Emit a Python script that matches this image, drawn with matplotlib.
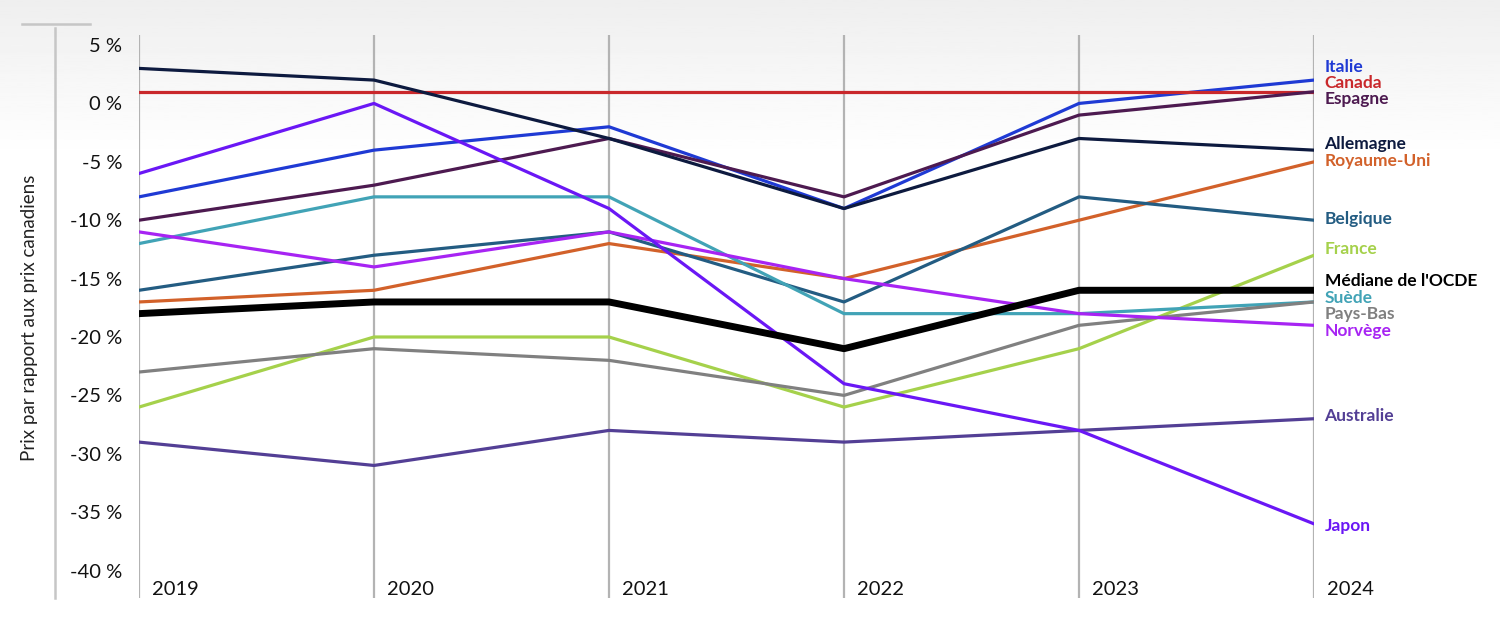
import numpy as np
import matplotlib.pyplot as plt
from matplotlib.lines import Line2D
import matplotlib.transforms as mtransforms

plt.rcParams['font.family'] = ['Lato', 'DejaVu Sans']

# data: price gap vs. Canada, in %
years = [2019, 2020, 2021, 2022, 2023, 2024]
countries = ["Italie", "Canada", "Espagne", "Allemagne", "Royaume-Uni", "Belgique",
             "France", "Médiane de l'OCDE", "Suède", "Pays-Bas", "Norvège",
             "Australie", "Japon"]
italie = [-8, -4, -2, -9, 0, 2]
canada = [1, 1, 1, 1, 1, 1]
espagne = [-10, -7, -3, -8, -1, 1]
allemagne = [3, 2, -3, -9, -3, -4]
royaume_uni = [-17, -16, -12, -15, -10, -5]
belgique = [-16, -13, -11, -17, -8, -10]
france = [-26, -20, -20, -26, -21, -13]
mediane = [-18, -17, -17, -21, -16, -16]
suede = [-12, -8, -8, -18, -18, -17]
pays_bas = [-23, -21, -22, -25, -19, -17]
norvege = [-11, -14, -11, -15, -18, -19]
australie = [-29, -31, -28, -29, -28, -27]
japon = [-6, 0, -9, -24, -28, -36]
series = [italie, canada, espagne, allemagne, royaume_uni, belgique, france,
          mediane, suede, pays_bas, norvege, australie, japon]
colors = ["#1f3ad4", "#c9282b", "#4d1a50", "#0d1a3f", "#d2612a", "#235c82",
          "#a5d14b", "#000000", "#41a3b6", "#808080", "#a724f3", "#533f95", "#6a17f5"]
# y position of the end labels (so they don't overlap)
label_y = [3.1, 1.75, 0.4, -3.45, -4.95, -9.9, -12.5, -15.2, -16.65, -18.05,
           -19.5, -26.8, -36.2]
ticks = [5, 0, -5, -10, -15, -20, -25, -30, -35, -40]

fig = plt.figure(figsize=(15, 6.26), dpi=100)

# faint grey gradient at the top of the background
bg = fig.add_axes([0, 0, 1, 1], zorder=-5)
grad = np.linspace(0, 1, 300).reshape(-1, 1)
grad = np.clip(grad * 4, 0, 1)
bg.imshow(0.935 + 0.065 * grad, cmap="gray", vmin=0, vmax=1, aspect="auto",
          extent=[0, 1, 0, 1], origin="upper")
bg.axis("off")

ax = fig.add_axes([139 / 1500, 28 / 626, (1314 - 139) / 1500, (598 - 35) / 626])
ax.set_facecolor("none")

for vals, c, name in zip(series, colors, countries):
    lw = 5 if name.startswith("Médiane") else 2.3
    z = 5 if name.startswith("Médiane") else 3
    ax.plot(years, vals, color=c, lw=lw, zorder=z, solid_capstyle="round")

for name, c, ly in zip(countries, colors, label_y):
    ax.text(2024.045, ly, name, color=c, fontsize=12.5, fontweight="bold",
            va="center", ha="left", clip_on=False)

for yr in years:
    ax.axvline(yr, color="#b3b3b3", lw=1.6, zorder=1)

trans = mtransforms.blended_transform_factory(ax.transData, ax.transAxes)
for yr in years:
    ax.text(yr + 0.055, 0.0, str(yr), transform=trans, fontsize=14.5,
            color="#111111", ha="left", va="bottom")

ax.set_xlim(2019, 2024)
ax.set_ylim(-42.35, 5.86)
ax.set_yticks(ticks)
ax.set_yticklabels([f"{t} %" for t in ticks], fontsize=14.5, color="#111111")
ax.tick_params(axis="y", length=0, pad=12)
ax.set_xticks([])
for s in ax.spines.values():
    s.set_visible(False)

# left bracket decoration
fig.add_artist(Line2D([55 / 1500, 55 / 1500], [28 / 626, 598 / 626],
                      color="#c6c6c6", lw=1.8))
fig.add_artist(Line2D([22 / 1500, 90 / 1500], [602 / 626, 602 / 626],
                      color="#c6c6c6", lw=1.8))

fig.text(30 / 1500, 308 / 626, "Prix par rapport aux prix canadiens", rotation=90,
         fontsize=13.5, color="#222222", ha="center", va="center")

fig.savefig("out.png", dpi=100)
